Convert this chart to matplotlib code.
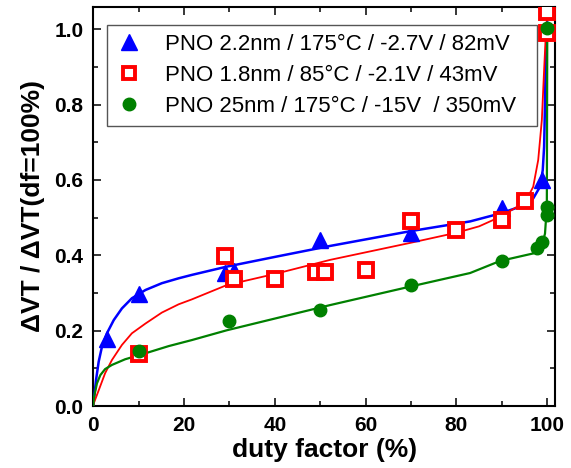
import matplotlib
matplotlib.use("Agg")
import matplotlib.pyplot as plt
from matplotlib.ticker import MultipleLocator
from matplotlib.lines import Line2D

plt.rcParams['font.family'] = ['Liberation Sans', 'DejaVu Sans']

# ---- measured data points ----
blue_x = [3, 10, 29, 31, 50, 70, 90, 98.8, 100]
blue_y = [0.179, 0.296, 0.353, 0.358, 0.44, 0.458, 0.525, 0.60, 1.0]

red_x = [10, 29, 31, 40, 49, 51, 60, 70, 80, 90, 95, 100, 100]
red_y = [0.139, 0.397, 0.337, 0.336, 0.357, 0.357, 0.361, 0.49, 0.467, 0.495, 0.544, 1.045, 0.99]

green_x = [10, 30, 50, 70, 90, 97.7, 98.8, 100, 100, 100]
green_y = [0.146, 0.226, 0.256, 0.32, 0.384, 0.419, 0.436, 0.507, 0.529, 1.004]

# ---- fitted curves ----
bfit_x = [0, 0.08, 0.6, 1.19, 1.9, 3.0, 4.5, 6.3, 8.5, 11.5, 15.1, 18.8, 21.7, 29.4,
          40.5, 52.2, 69.8, 83, 89.6, 94, 96.9, 98.4, 99.0, 99.3, 99.5, 99.65, 99.9]
bfit_y = [0, 0.011, 0.069, 0.118, 0.157, 0.193, 0.228, 0.259, 0.286, 0.308, 0.326, 0.339,
          0.348, 0.37, 0.397, 0.425, 0.464, 0.49, 0.511, 0.529, 0.551, 0.582, 0.626, 0.688,
          0.803, 0.918, 0.998]

rfit_x = [0, 0.1, 1.2, 2.6, 4.1, 6.3, 8.5, 11.5, 15.1, 18.8, 21.7, 29.4, 40.5, 52.2,
          69.8, 80, 85, 89.6, 95.2, 96.9, 98.0, 98.8, 99.3, 99.65, 99.9]
rfit_y = [0, 0.007, 0.042, 0.087, 0.122, 0.162, 0.193, 0.219, 0.248, 0.27, 0.283, 0.321,
          0.352, 0.388, 0.433, 0.46, 0.477, 0.502, 0.542, 0.582, 0.653, 0.759, 0.892,
          0.98, 1.024]

gfit_x = [0, 0.1, 0.8, 1.55, 2.6, 4.1, 7.0, 11.5, 16.6, 21.7, 29.4, 52.2, 69.8, 83,
          89.6, 96.9, 98.8, 99.5, 99.9, 100]
gfit_y = [0, 0.02, 0.06, 0.082, 0.098, 0.109, 0.124, 0.14, 0.159, 0.175, 0.201, 0.268,
          0.317, 0.353, 0.385, 0.405, 0.423, 0.458, 0.529, 0.998]

labels = ["PNO 2.2nm / 175°C / -2.7V / 82mV",
          "PNO 1.8nm / 85°C / -2.1V / 43mV",
          "PNO 25nm / 175°C / -15V  / 350mV"]

BLUE = "#0000ff"
RED = "#ff0000"
GREEN = "#008000"

W, H = 571, 468
fig = plt.figure(figsize=(W / 100, H / 100), dpi=100)
ax = fig.add_axes([93.3 / W, (H - 406) / H, (555 - 93.3) / W, (406 - 6.7) / H])

ax.plot(bfit_x, bfit_y, color=BLUE, lw=1.8, zorder=3, solid_joinstyle='round')
ax.plot(rfit_x, rfit_y, color=RED, lw=1.3, zorder=3, solid_joinstyle='round')
ax.plot(gfit_x, gfit_y, color=GREEN, lw=1.6, zorder=3, solid_joinstyle='round')

ax.plot(blue_x, blue_y, ls='none', marker='^', ms=12, color=BLUE, mec=BLUE, zorder=4)
ax.plot(red_x, red_y, ls='none', marker='s', ms=9.5, mfc='white', mec=RED, mew=2.8, zorder=5)
ax.plot(green_x, green_y, ls='none', marker='o', ms=9, color=GREEN, mec=GREEN, zorder=6)

ax.set_xlim(0, 101.7)
ax.set_ylim(0, 1.06)
ax.xaxis.set_major_locator(MultipleLocator(20))
ax.xaxis.set_minor_locator(MultipleLocator(10))
ax.yaxis.set_major_locator(MultipleLocator(0.2))
ax.yaxis.set_minor_locator(MultipleLocator(0.1))
ax.yaxis.set_major_formatter(matplotlib.ticker.FormatStrFormatter('%.1f'))

ax.tick_params(which='both', direction='in', top=True, right=True, width=1.1)
ax.tick_params(which='major', length=6, pad=7, labelsize=15)
ax.tick_params(which='minor', length=3.5)
for lab in ax.get_xticklabels() + ax.get_yticklabels():
    lab.set_fontweight('bold')
for sp in ax.spines.values():
    sp.set_linewidth(1.5)

ax.set_xlabel("duty factor (%)", fontsize=19, fontweight='bold', labelpad=2)
ax.set_ylabel("ΔVT / ΔVT(df=100%)", fontsize=19, fontweight='bold', labelpad=7)

handles = [
    Line2D([], [], ls='none', marker='^', ms=12, color=BLUE),
    Line2D([], [], ls='none', marker='s', ms=8.5, mfc='white', mec=RED, mew=2.8),
    Line2D([], [], ls='none', marker='o', ms=9, color=GREEN),
]
x0 = (107 - 93.3) / (555 - 93.3)
x1 = (537 - 93.3) / (555 - 93.3)
y1 = (406 - 25) / (406 - 6.7)
y0 = (406 - 123) / (406 - 6.7)
leg = ax.legend(handles, labels, loc='upper left',
                bbox_to_anchor=(x0, y0, x1 - x0, y1 - y0), mode='expand',
                borderaxespad=0, fontsize=16, frameon=True, fancybox=False,
                edgecolor='#555555', framealpha=1, handlelength=1.2,
                handletextpad=1.0, labelspacing=0.45, borderpad=0.4)
leg.get_frame().set_linewidth(1.0)
leg.set_zorder(2)

fig.savefig("out.png", dpi=100)
